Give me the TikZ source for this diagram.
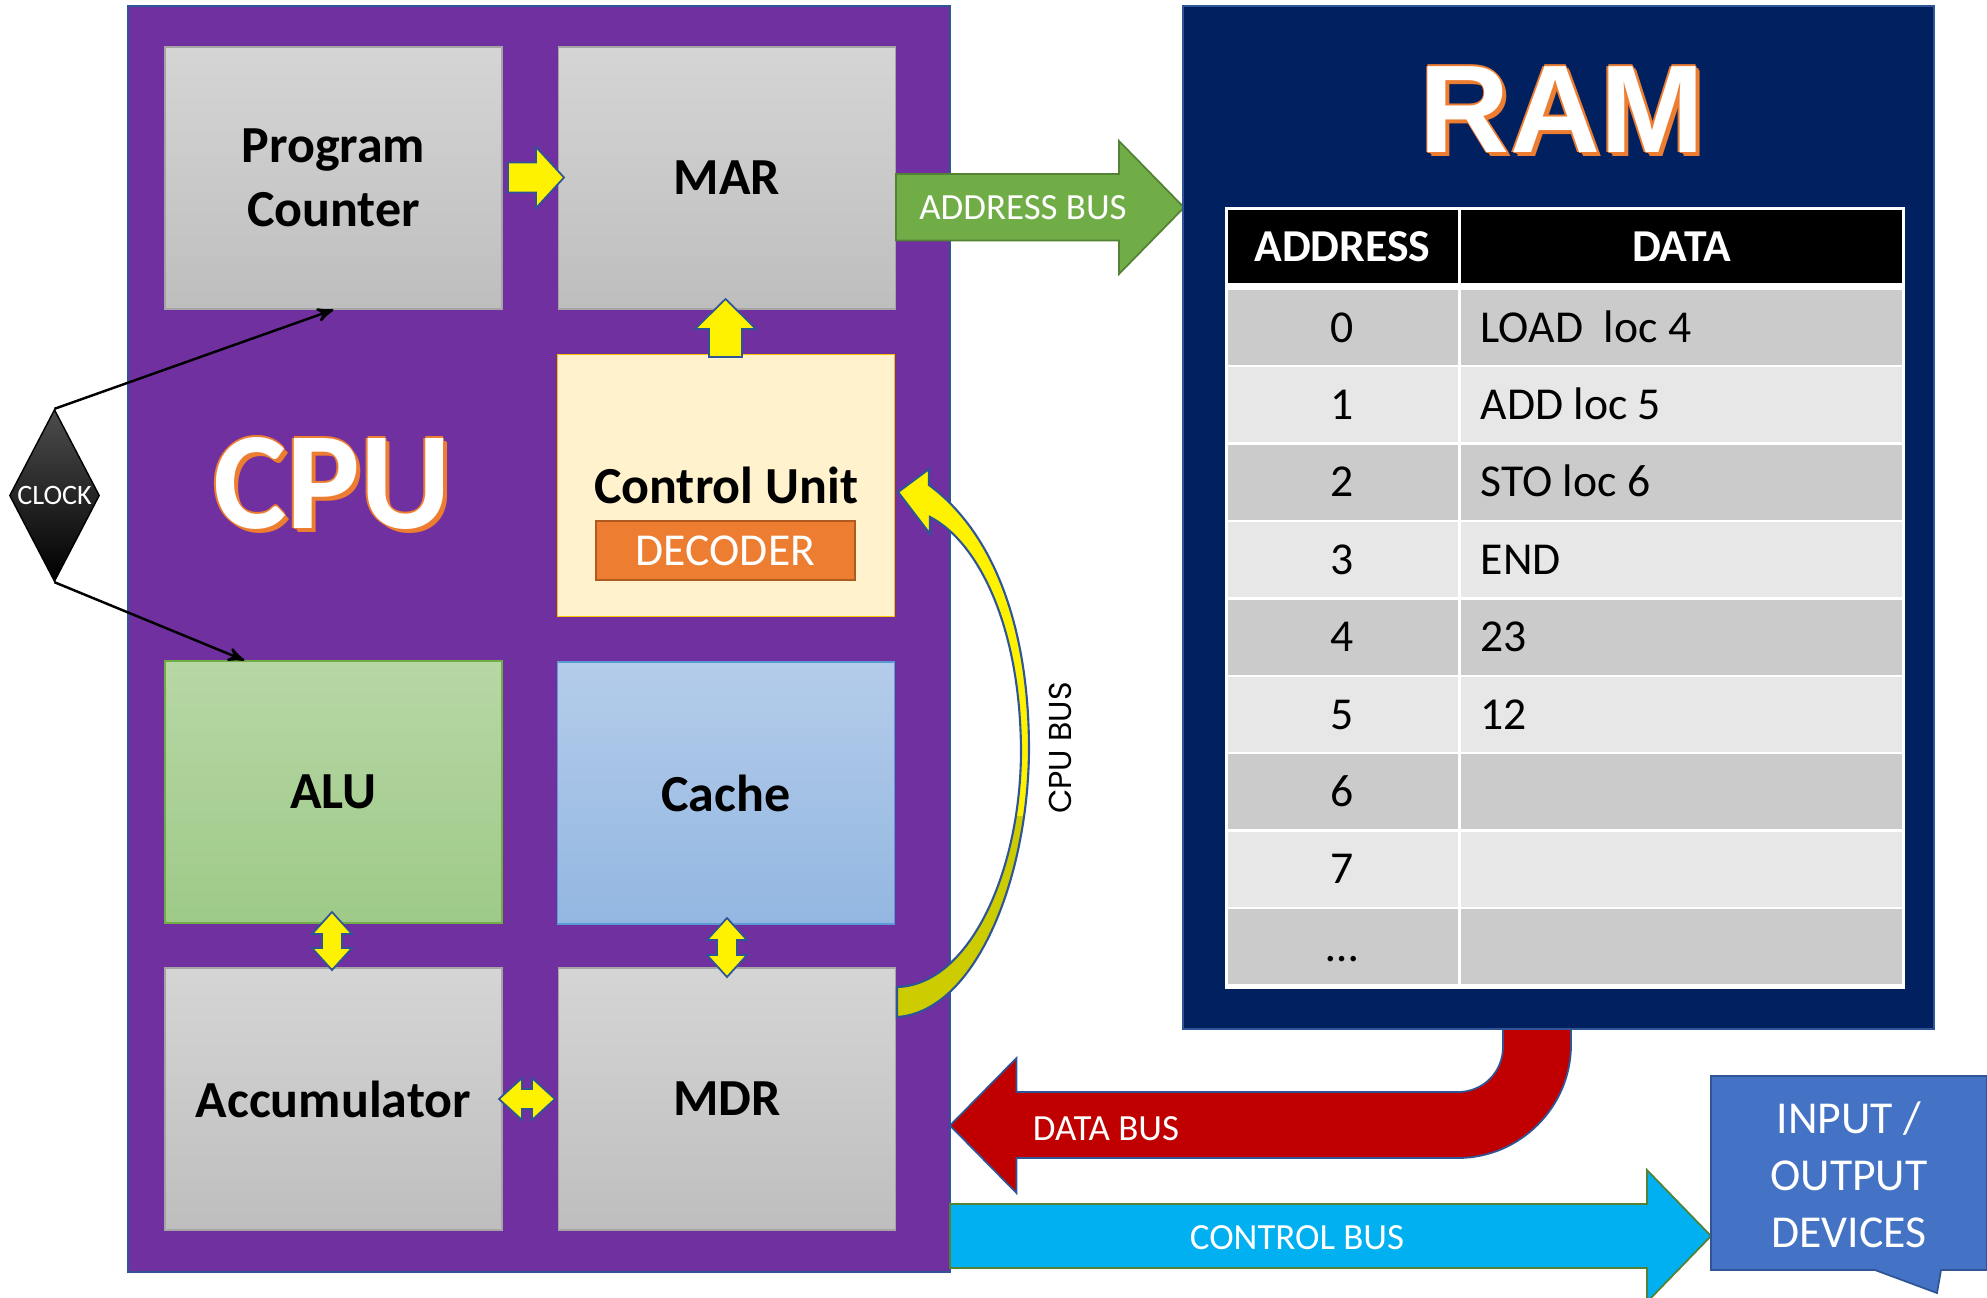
\documentclass[tikz,border=0pt]{standalone}
\usepackage{fontspec}
\setmainfont{Carlito}
\newfontfamily\ramfont{Liberation Sans}
\newfontfamily\busfont{Poppins}
\usetikzlibrary{arrows, shapes.geometric}

\definecolor{cpupurple}{HTML}{7030A0}
\definecolor{lineblue}{HTML}{2F5597}
\definecolor{graytop}{HTML}{D5D5D5}
\definecolor{graybot}{HTML}{BEBEBE}
\definecolor{grayedge}{HTML}{A5A5A5}
\definecolor{cufill}{HTML}{FFF2CC}
\definecolor{cuedge}{HTML}{FFC000}
\definecolor{decfill}{HTML}{ED7D31}
\definecolor{decedge}{HTML}{AE5A21}
\definecolor{alutop}{HTML}{B7D7A5}
\definecolor{alubot}{HTML}{9ECA88}
\definecolor{aluedge}{HTML}{70AD47}
\definecolor{cachetop}{HTML}{B4CCEA}
\definecolor{cachebot}{HTML}{93B7E1}
\definecolor{cacheedge}{HTML}{5B9BD5}
\definecolor{addrgreen}{HTML}{70AD47}
\definecolor{addredge}{HTML}{548235}
\definecolor{ramblue}{HTML}{002060}
\definecolor{datared}{HTML}{C00000}
\definecolor{ctrlblue}{HTML}{00B0F0}
\definecolor{iofill}{HTML}{4472C4}
\definecolor{rowdark}{HTML}{CBCBCB}
\definecolor{rowlight}{HTML}{E7E7E7}
\definecolor{busolive}{HTML}{CCCC00}
\definecolor{titleorange}{HTML}{ED7D31}

\newcommand{\cpubuspath}{(897,1017) .. controls (975,1012) and (1028,880) .. (1029,750)
  .. controls (1029,620) and (990,530) .. (929,485) -- (929,469) -- (898,492) -- (930,534) -- (930,517)
  .. controls (975,540) and (1020,620) .. (1021,750) .. controls (1021,870) and (970,985) .. (897,987) -- cycle}
\newcommand{\shadowlayer}[3]{\rlap{\kern#1\raisebox{#2}{\textcolor{titleorange}{#3}}}}
\newcommand{\shadowtext}[1]{\shadowlayer{0.85pt}{-0.85pt}{#1}\shadowlayer{1.15pt}{-1.15pt}{#1}%
  \shadowlayer{0.43pt}{0pt}{#1}\shadowlayer{-0.43pt}{0pt}{#1}\shadowlayer{0pt}{0.43pt}{#1}%
  \shadowlayer{0pt}{-0.43pt}{#1}\textcolor{white}{#1}}

\begin{document}
\begin{tikzpicture}[x=0.1mm, y=-0.1mm, >=stealth',
  box/.style={rectangle, line width=0.4pt, minimum width=33.7mm, minimum height=26.2mm, align=center,
    font=\fontsize{14.8}{18.2}\selectfont\bfseries},
  graybox/.style={box, draw=grayedge, top color=graytop, bottom color=graybot},
  decoder/.style={rectangle, draw=decedge, fill=decfill, line width=0.6pt, minimum width=25.9mm, minimum height=5.9mm,
    text=white, font=\fontsize{13}{15}\selectfont},
  clockbox/.style={diamond, minimum width=9mm, minimum height=17.2mm, inner sep=0pt, shape aspect=0.52,
    top color=black!70, middle color=black, bottom color=black, draw=black, text=white, font=\fontsize{8}{9}\selectfont},
  title/.style={inner sep=0pt, anchor=base, font=\fontsize{39.5}{40}\selectfont\bfseries},
  yarrow/.style={fill=yellow, draw=lineblue, line width=0.5pt},
  buslabel/.style={text=white, font=\fontsize{10.5}{12}\selectfont},
  cell/.style={inner sep=0pt, font=\fontsize{13}{15}\selectfont},
  headcell/.style={text=white, font=\fontsize{13}{15}\selectfont\bfseries}]

\useasboundingbox (0,0) rectangle (1987,1297);

\draw[lineblue, fill=cpupurple, line width=0.4pt] (128,6) rectangle (950,1272);

\node[graybox] (pc) at (333.5,178) {Program\\Counter};
\node[graybox] (mar) at (727,178) {MAR};
\node[box, draw=cuedge, fill=cufill] (cu) at (726,485.5) {Control Unit};
\node[decoder] (dec) at (725.5,550.5) {DECODER};
\node[box, draw=aluedge, top color=alutop, bottom color=alubot] (alu) at (333.5,792) {ALU};
\node[box, draw=cacheedge, top color=cachetop, bottom color=cachebot] (cache) at (726,793) {Cache};
\node[graybox] (acc) at (333.5,1099) {Accumulator};
\node[graybox] (mdr) at (727,1099) {MDR};

\node[title] (cpu) at (332,528) {\shadowtext{CPU}};

\draw[yarrow] (508,162.5) -- (536,162.5) -- (536,147) -- (564,177.5) -- (536,208) -- (536,192.5) -- (508,192.5) -- cycle;
\draw[yarrow] (709,357) -- (709,329) -- (695,329) -- (725.5,299) -- (756,329) -- (742,329) -- (742,357) -- cycle;
\draw[yarrow] (332,912) -- (352,934) -- (342,934) -- (342,948) -- (352,948) -- (332,970) -- (312,948) -- (322,948) -- (322,934) -- (312,934) -- cycle;
\draw[yarrow] (727,918) -- (747,940) -- (737,940) -- (737,955) -- (747,955) -- (727,977) -- (707,955) -- (717,955) -- (717,940) -- (707,940) -- cycle;
\draw[yarrow] (499,1099) -- (522,1078) -- (522,1089) -- (532,1089) -- (532,1078) -- (555,1099) -- (532,1120) -- (532,1109) -- (522,1109) -- (522,1120) -- cycle;

\node[clockbox] (clock) at (54.5,495.5) {CLOCK};
\draw[->, line width=0.7pt] (clock.north) -- (pc.south);
\draw[->, line width=0.7pt] (clock.south) -- ([xshift=8mm]alu.north west);

\begin{scope}
  \clip (880,815) rectangle (1040,1030);
  \fill[busolive] \cpubuspath;
\end{scope}
\begin{scope}
  \clip (880,440) rectangle (1040,815);
  \fill[yellow] \cpubuspath;
\end{scope}
\draw[lineblue, line width=0.6pt] \cpubuspath;
\node[rotate=90, font=\busfont\fontsize{9}{10}\selectfont] (cpubus) at (1060,748) {CPU BUS};

\draw[draw=addredge, fill=addrgreen, line width=0.5pt] (896,174) -- (1119,174) -- (1119,141) -- (1184,207.5) -- (1119,274) -- (1119,240.5) -- (896,240.5) -- cycle;
\node[buslabel] (abus) at (1023,208) {ADDRESS BUS};

\draw[lineblue, fill=ramblue, line width=0.5pt] (1183,6) rectangle (1934,1029);
\node[title, font=\ramfont\fontsize{35.5}{36}\selectfont\bfseries] (ram) at (1562,152) {\shadowtext{RAM}};

\fill[white] (1225,207) rectangle (1905,989);
\fill[black] (1228,210) rectangle (1902,283);
\foreach \adr/\dat [count=\i from 0, evaluate=\i as \ytop using 290+77.4*\i] in
  {0/LOAD\ \ loc 4, 1/ADD loc 5, 2/STO loc 6, 3/END, 4/23, 5/12, 6/, 7/, …/} {
  \ifodd\i \def\rc{rowlight}\else \def\rc{rowdark}\fi
  \fill[\rc] (1228,\ytop) rectangle (1902,\ytop+75);
  \node[cell, anchor=base] (a\i) at (1342.5,\ytop+52) {\adr};
  \node[cell, anchor=base west] (d\i) at (1480,\ytop+52) {\dat};
}
\draw[white, line width=0.8pt] (1459.5,208) -- (1459.5,988);
\node[headcell] (haddr) at (1342.5,247) {ADDRESS};
\node[headcell] (hdata) at (1681.5,247) {DATA};

\draw[lineblue, fill=datared, line width=0.5pt] (1503,1029) -- (1503,1047) .. controls (1503,1072) and (1483,1092) .. (1458,1092)
  -- (1016.5,1092) -- (1016.5,1058) -- (950,1125.5) -- (1016.5,1193) -- (1016.5,1158) -- (1458,1158)
  .. controls (1520,1158) and (1571,1107) .. (1571,1045) -- (1571,1029) -- cycle;
\node[buslabel] (dbus) at (1106,1129) {DATA BUS};

\draw[draw=addredge, fill=ctrlblue, line width=0.5pt] (950,1204) -- (1647,1204) -- (1647,1170) -- (1711,1236) -- (1647,1302) -- (1647,1268) -- (950,1268) -- cycle;
\node[buslabel] (cbus) at (1297,1238) {CONTROL BUS};

\draw[lineblue, fill=iofill, line width=0.5pt] (1711,1076) -- (1987,1076) -- (1987,1270) -- (1941,1270) -- (1937,1293) -- (1875,1270) -- (1711,1270) -- cycle;
\node[align=center, text=white, font=\fontsize{13}{16.2}\selectfont] (io) at (1849,1175) {INPUT /\\OUTPUT\\DEVICES};

\end{tikzpicture}
\end{document}
